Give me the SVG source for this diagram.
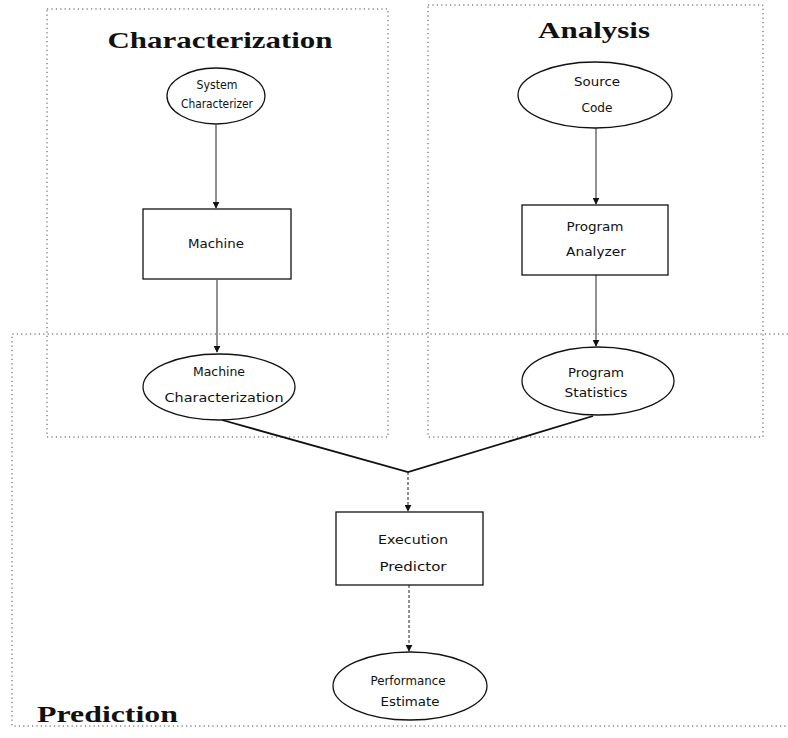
<svg xmlns="http://www.w3.org/2000/svg" width="788" height="738" viewBox="0 0 788 738">
<style>
.reg{fill:none;stroke:#444;stroke-width:1;stroke-dasharray:1.2 3.2}
.title{font-family:"Liberation Serif","DejaVu Serif",serif;font-weight:bold;font-size:23px;fill:#111}
.shape{fill:#fff;stroke:#111;stroke-width:1.3}
.lbl{font-family:"DejaVu Sans","Liberation Sans",sans-serif;font-size:12px;fill:#111;text-anchor:middle}
.conn{fill:none;stroke:#222;stroke-width:1}
.thick{fill:none;stroke:#111;stroke-width:1.8}
.dash{stroke-dasharray:3 2}
</style>
<defs>
<marker id="ah" viewBox="0 0 10 10" refX="9" refY="5" markerWidth="7" markerHeight="7" orient="auto" markerUnits="userSpaceOnUse">
<path d="M0,0 L10,5 L0,10 z" fill="#111"/>
</marker>
</defs>
<rect width="788" height="738" fill="#fff"/>
<g id="region-characterization">
<rect class="reg" x="47" y="9" width="341" height="428"/>
<text class="title" x="220" y="48" text-anchor="middle" textLength="225" lengthAdjust="spacingAndGlyphs">Characterization</text>
</g>
<g id="region-analysis">
<rect class="reg" x="428" y="5" width="335" height="432"/>
<text class="title" x="594" y="38" text-anchor="middle" textLength="112" lengthAdjust="spacingAndGlyphs">Analysis</text>
</g>
<g id="region-prediction">
<path class="reg" d="M788,334 L12,334 L12,726 L788,726"/>
<text class="title" x="37" y="722" textLength="141" lengthAdjust="spacingAndGlyphs">Prediction</text>
</g>
<g id="connectors">
<line class="conn" x1="216" y1="125" x2="216" y2="208" marker-end="url(#ah)"/>
<line class="conn" x1="596" y1="128" x2="596" y2="204" marker-end="url(#ah)"/>
<line class="conn" x1="217" y1="280" x2="217" y2="352" marker-end="url(#ah)"/>
<line class="conn" x1="596" y1="275" x2="596" y2="346" marker-end="url(#ah)"/>
<polyline class="thick" points="222,420 408,472 593,416"/>
<line class="conn dash" x1="408" y1="472" x2="408" y2="511" marker-end="url(#ah)"/>
<line class="conn dash" x1="409" y1="585" x2="409" y2="651" marker-end="url(#ah)"/>
</g>
<g id="node-system-characterizer">
<ellipse class="shape" cx="216" cy="96" rx="49" ry="28"/>
<text class="lbl" x="217" y="89" textLength="41" lengthAdjust="spacingAndGlyphs">System</text>
<text class="lbl" x="217" y="108" textLength="72" lengthAdjust="spacingAndGlyphs">Characterizer</text>
</g>
<g id="node-source-code">
<ellipse class="shape" cx="595" cy="95" rx="77" ry="33"/>
<text class="lbl" x="597" y="86" textLength="46" lengthAdjust="spacingAndGlyphs">Source</text>
<text class="lbl" x="597" y="112" textLength="31" lengthAdjust="spacingAndGlyphs">Code</text>
</g>
<g id="node-machine">
<rect class="shape" x="143" y="209" width="148" height="70"/>
<text class="lbl" x="216" y="248" textLength="56" lengthAdjust="spacingAndGlyphs">Machine</text>
</g>
<g id="node-program-analyzer">
<rect class="shape" x="522" y="205" width="146" height="70"/>
<text class="lbl" x="595" y="231" textLength="57" lengthAdjust="spacingAndGlyphs">Program</text>
<text class="lbl" x="596" y="256" textLength="60" lengthAdjust="spacingAndGlyphs">Analyzer</text>
</g>
<g id="node-machine-characterization">
<ellipse class="shape" cx="219" cy="387" rx="76" ry="33"/>
<text class="lbl" x="219" y="376" textLength="52" lengthAdjust="spacingAndGlyphs">Machine</text>
<text class="lbl" x="224" y="402" textLength="119" lengthAdjust="spacingAndGlyphs">Characterization</text>
</g>
<g id="node-program-statistics">
<ellipse class="shape" cx="598" cy="381" rx="76" ry="34"/>
<text class="lbl" x="596" y="377" textLength="56" lengthAdjust="spacingAndGlyphs">Program</text>
<text class="lbl" x="596" y="397" textLength="63" lengthAdjust="spacingAndGlyphs">Statistics</text>
</g>
<g id="node-execution-predictor">
<rect class="shape" x="336" y="512" width="147" height="73"/>
<text class="lbl" x="413" y="544" textLength="70" lengthAdjust="spacingAndGlyphs">Execution</text>
<text class="lbl" x="413" y="571" textLength="67" lengthAdjust="spacingAndGlyphs">Predictor</text>
</g>
<g id="node-performance-estimate">
<ellipse class="shape" cx="410" cy="686" rx="77" ry="34"/>
<text class="lbl" x="408" y="685" textLength="75" lengthAdjust="spacingAndGlyphs">Performance</text>
<text class="lbl" x="410" y="706" textLength="59" lengthAdjust="spacingAndGlyphs">Estimate</text>
</g>
</svg>
